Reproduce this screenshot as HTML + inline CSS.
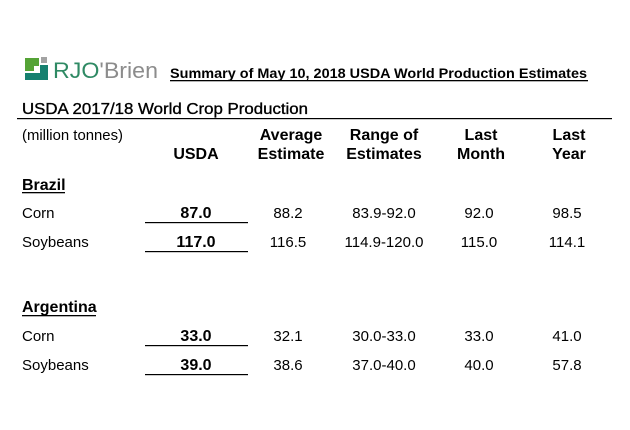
<!DOCTYPE html>
<html>
<head>
<meta charset="utf-8">
<style>
  html, body { margin: 0; padding: 0; background: #ffffff; }
  body { width: 630px; height: 430px; overflow: hidden; }
  svg { display: block; }
  text { font-family: "Liberation Sans", Arial, sans-serif; fill: #000; }
  .b { font-weight: bold; }
  .hd { font-weight: bold; font-size: 16px; text-anchor: middle; }
  .lab { font-size: 15px; }
  .val { font-size: 15px; text-anchor: middle; }
  .uv { font-size: 16px; font-weight: bold; text-anchor: middle; }
</style>
</head>
<body>
<svg width="630" height="430" viewBox="0 0 630 430" xmlns="http://www.w3.org/2000/svg">
  <rect x="0" y="0" width="630" height="430" fill="#ffffff"/>

  <!-- Logo icon -->
  <rect x="25" y="58" width="14" height="13" fill="#55a336"/>
  <rect x="34" y="66" width="5" height="5" fill="#ffffff"/>
  <rect x="41" y="57" width="6" height="6" fill="#a3a3a3"/>
  <polygon points="25,73 40,73 40,65 48,65 48,80 25,80" fill="#16806f"/>
  <!-- Logo text -->
  <text x="53" y="78" font-size="22" textLength="105" lengthAdjust="spacingAndGlyphs"><tspan fill="#2f8a64">RJO</tspan><tspan fill="#8c8c8c">'Brien</tspan></text>

  <!-- Summary heading -->
  <text x="170" y="78" class="b" font-size="13.5" textLength="417" lengthAdjust="spacingAndGlyphs">Summary of May 10, 2018 USDA World Production Estimates</text>
  <rect x="170" y="80" width="418" height="1.3" fill="#000"/>

  <!-- Title -->
  <text x="22" y="114" font-size="15.5" textLength="286" lengthAdjust="spacingAndGlyphs" stroke="#000" stroke-width="0.35">USDA 2017/18 World Crop Production</text>
  <rect x="17" y="118" width="595" height="1.2" fill="#000"/>

  <!-- Column headers -->
  <text x="22" y="140" font-size="14.5" textLength="101" lengthAdjust="spacingAndGlyphs">(million tonnes)</text>
  <text x="196" y="159" class="hd">USDA</text>
  <text x="291" y="140" class="hd">Average</text>
  <text x="291" y="159" class="hd">Estimate</text>
  <text x="384" y="140" class="hd">Range of</text>
  <text x="384" y="159" class="hd">Estimates</text>
  <text x="481" y="140" class="hd">Last</text>
  <text x="481" y="159" class="hd">Month</text>
  <text x="569" y="140" class="hd">Last</text>
  <text x="569" y="159" class="hd">Year</text>

  <!-- Brazil -->
  <text x="22" y="190" class="b" font-size="16">Brazil</text>
  <rect x="22" y="192" width="43" height="1.3" fill="#000"/>

  <text x="22" y="218" class="lab">Corn</text>
  <text x="196" y="218" class="uv">87.0</text>
  <rect x="145" y="222" width="103" height="1.2" fill="#000"/>
  <text x="288" y="218" class="val">88.2</text>
  <text x="384" y="218" class="val">83.9-92.0</text>
  <text x="479" y="218" class="val">92.0</text>
  <text x="567" y="218" class="val">98.5</text>

  <text x="22" y="247" class="lab">Soybeans</text>
  <text x="196" y="247" class="uv">117.0</text>
  <rect x="145" y="251" width="103" height="1.2" fill="#000"/>
  <text x="288" y="247" class="val">116.5</text>
  <text x="384" y="247" class="val">114.9-120.0</text>
  <text x="479" y="247" class="val">115.0</text>
  <text x="567" y="247" class="val">114.1</text>

  <!-- Argentina -->
  <text x="22" y="312" class="b" font-size="16">Argentina</text>
  <rect x="22" y="315" width="74" height="1.3" fill="#000"/>

  <text x="22" y="341" class="lab">Corn</text>
  <text x="196" y="341" class="uv">33.0</text>
  <rect x="145" y="345" width="103" height="1.2" fill="#000"/>
  <text x="288" y="341" class="val">32.1</text>
  <text x="384" y="341" class="val">30.0-33.0</text>
  <text x="479" y="341" class="val">33.0</text>
  <text x="567" y="341" class="val">41.0</text>

  <text x="22" y="370" class="lab">Soybeans</text>
  <text x="196" y="370" class="uv">39.0</text>
  <rect x="145" y="374" width="103" height="1.2" fill="#000"/>
  <text x="288" y="370" class="val">38.6</text>
  <text x="384" y="370" class="val">37.0-40.0</text>
  <text x="479" y="370" class="val">40.0</text>
  <text x="567" y="370" class="val">57.8</text>
</svg>
</body>
</html>
